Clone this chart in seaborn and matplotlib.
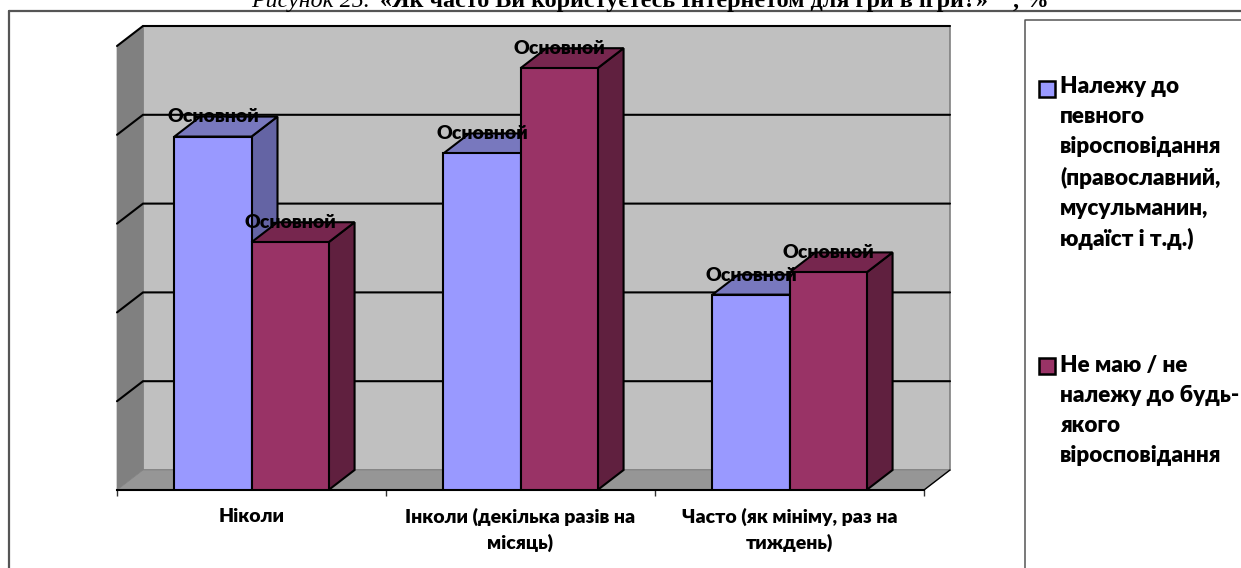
import pandas as pd
import seaborn as sns
import matplotlib
matplotlib.use('Agg')
import matplotlib.pyplot as plt
from matplotlib.lines import Line2D

# Data
categories = ['Ніколи', 'Інколи (декілька разів на\nмісяць)', 'Часто (як мініму, раз на\nтиждень)']
series_names = ['Належу до\nпевного\nвіросповідання\n(православний,\nмусульманин,\nюдаїст і т.д.)',
                'Не маю / не\nналежу до будь-\nякого\nвіросповідання']
believers = [39.8, 37.9, 22.0]
non_believers = [27.9, 47.5, 24.5]
bar_text = 'Основной'

# Colours for the fake 3D look: front, top, side
front_colors = ['#9999FF', '#993366']
top_colors = ['#7878BE', '#76264E']
side_colors = ['#6464A4', '#60203F']

W, H = 1241, 568
depth_x = 26 / 269
depth_y = 20 / 8.88

sns.set_theme(style='white')
plt.rcParams['font.family'] = ['Lato', 'Open Sans', 'DejaVu Sans']

df = pd.DataFrame({
    'category': categories * 2,
    'group': [series_names[0]] * 3 + [series_names[1]] * 3,
    'value': believers + non_believers,
})

fig = plt.figure(figsize=(W / 100, H / 100), dpi=100)
ax = fig.add_axes([117 / W, 1 - 490 / H, (924 - 117) / W, (490 - 46) / H])

sns.barplot(data=df, x='category', y='value', hue='group', palette=front_colors,
            saturation=1, width=0.573, gap=0, edgecolor='black', linewidth=1.5, ax=ax)
ax.set_xlim(-0.5, 2.5)
ax.set_ylim(0, 50)
ax.set_xlabel('')
ax.set_ylabel('')
ax.set_yticks([0, 10, 20, 30, 40, 50])
ax.set_yticklabels([])
ax.tick_params(axis='y', length=0)
ax.set_xticks([-0.5, 0.5, 1.5, 2.5], minor=True)
ax.tick_params(axis='x', which='minor', bottom=True, length=4.5, width=1, color='#333333')
ax.tick_params(axis='x', which='major', length=0, pad=13)
for lab in ax.get_xticklabels():
    lab.set_fontweight('heavy')
    lab.set_fontsize(14)
    lab.set_linespacing(1.52)
    lab.set_color('black')
sns.despine(ax=ax, left=True)
ax.spines['bottom'].set_color('black')
ax.spines['bottom'].set_linewidth(1.5)
ax.patch.set_alpha(0)

# Walls and floor
x0, x1 = ax.get_xlim()
wall_top = 50 + depth_y
ax.fill([x0 + depth_x, x1 + depth_x, x1 + depth_x, x0 + depth_x], [depth_y, depth_y, wall_top, wall_top],
        fc='#C0C0C0', ec='#808080', lw=1.2, clip_on=False, zorder=0.5)
ax.fill([x0, x0 + depth_x, x0 + depth_x, x0], [0, depth_y, wall_top, 50],
        fc='#808080', ec='#808080', lw=0.5, clip_on=False, zorder=0.6)
ax.fill([x0, x0 + depth_x, x1 + depth_x, x1], [0, depth_y, depth_y, 0],
        fc='#969696', ec='#808080', lw=0.5, clip_on=False, zorder=0.6)
ax.plot([x1, x1 + depth_x], [0, depth_y], color='black', lw=1, clip_on=False, zorder=0.7)

# Gridlines run over the left wall and the back wall
for v in [10, 20, 30, 40, 50]:
    ax.plot([x0, x0 + depth_x, x1 + depth_x], [v, v + depth_y, v + depth_y], color='black', lw=1.5,
            clip_on=False, zorder=0.8, solid_joinstyle='miter')

# Top and side faces taken from the seaborn bars
for s, container in enumerate(ax.containers[:2]):
    base_z = 2 + s * 2
    for bar in container:
        l, r, h = bar.get_x(), bar.get_x() + bar.get_width(), bar.get_height()
        ax.fill([r, r + depth_x, r + depth_x, r], [0, depth_y, h + depth_y, h],
                fc=side_colors[s], ec='black', lw=1.5, clip_on=False, zorder=base_z)
        ax.fill([l, l + depth_x, r + depth_x, r], [h, h + depth_y, h + depth_y, h],
                fc=top_colors[s], ec='black', lw=1.5, clip_on=False, zorder=base_z)
        bar.set_zorder(base_z + 1)
    ax.bar_label(container, labels=[bar_text] * 3, padding=8, fontweight='heavy', fontsize=14,
                 color='black', zorder=10)

# Legend
leg = ax.legend(loc='upper left', bbox_to_anchor=(1039 / W, 1 - 76 / H), bbox_transform=fig.transFigure,
                frameon=False, handlelength=0.7, handleheight=0.7, handletextpad=0.24,
                labelspacing=4.65, borderpad=0, borderaxespad=0, prop={'weight': 'heavy', 'size': 16.2})
for t in leg.get_texts():
    t.set_linespacing(1.53)
    t.set_color('black')
for handle, n_lines in zip(leg.legend_handles, [6, 4]):
    # lift the swatch up to the first line of its label
    handle.set_y((n_lines - 1) / 2 * 30 * 0.72)
    handle.set_edgecolor('black')
    handle.set_linewidth(1.8)

# Page frame and the cut off caption above the chart
frame = '#555555'
fig.add_artist(Line2D([8.5 / W, 1], [1 - 10.5 / H, 1 - 10.5 / H], color=frame, lw=1.6))
fig.add_artist(Line2D([8.5 / W, 8.5 / W], [0, 1 - 10.5 / H], color=frame, lw=1.6))
fig.add_artist(Line2D([1025 / W, 1025 / W, 1], [0, 1 - 19.5 / H, 1 - 19.5 / H], color='#555555', lw=1.1))
serif = ['Liberation Serif', 'DejaVu Serif']
fig.text(376 / W, 1 - 7 / H, 'Рисунок 25. ', family=serif, style='italic', fontsize=17.2, ha='right', va='baseline', color='black')
fig.text(380 / W, 1 - 7 / H, '«Як часто Ви користуєтесь Інтернетом для гри в ігри?»', family=serif, weight='bold',
         fontsize=17.4, ha='left', va='baseline', color='black')
fig.text(1013 / W, 1 - 7 / H, ', %', family=serif, weight='bold', fontsize=17.2, ha='left', va='baseline', color='black')

fig.savefig('out.png', dpi=100)
